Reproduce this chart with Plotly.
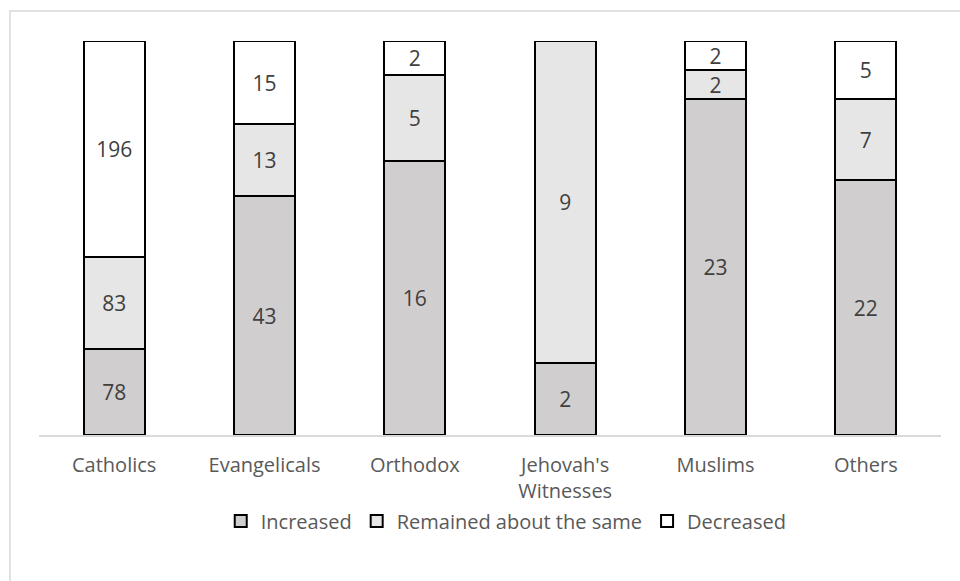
import plotly.graph_objects as go

categories = ["Catholics", "Evangelicals", "Orthodox", "Jehovah's<br>Witnesses", "Muslims", "Others"]
increased = [78, 43, 16, 2, 23, 22]
remained = [83, 13, 5, 9, 2, 7]
decreased = [196, 15, 2, 0, 2, 5]

series = [
    ("Increased", increased, "#d0cece"),
    ("Remained about the same", remained, "#e7e6e6"),
    ("Decreased", decreased, "#ffffff"),
]

fig = go.Figure()
for name, vals, color in series:
    fig.add_trace(go.Bar(
        x=categories, y=vals, name=name,
        marker=dict(color=color, line=dict(color="#000000", width=2)),
        text=[str(v) if v > 0 else "" for v in vals],
        textposition="inside", insidetextanchor="middle", textangle=0,
        constraintext="none",
        textfont=dict(color="#404040", size=21, family="Open Sans"),
        hoverinfo="skip",
    ))

fig.update_layout(
    barmode="stack", barnorm="percent", bargap=0.595,
    width=960, height=581,
    margin=dict(l=39, r=19, t=41, b=146),
    plot_bgcolor="white", paper_bgcolor="white",
    font=dict(family="Open Sans", color="#595959", size=20),
    uniformtext=dict(minsize=21, mode="show"),
    showlegend=True,
    legend=dict(orientation="h", x=0.518, xanchor="center", y=-0.218, yanchor="middle",
                font=dict(size=20, color="#595959"), itemwidth=30, traceorder="normal"),
    xaxis=dict(showline=True, linecolor="#d9d9d9", linewidth=1.5, ticks="",
               ticklabelstandoff=11,
               tickfont=dict(size=20, color="#595959"), fixedrange=True),
    yaxis=dict(range=[0, 100], visible=False, showgrid=False),
    shapes=[dict(type="rect", xref="paper", yref="paper",
                 x0=-0.0322, x1=1.2, y0=-0.6, y1=1.076,
                 line=dict(color="#d9d9d9", width=1.5), fillcolor="rgba(0,0,0,0)", layer="below")],
)

fig.write_html("out.html")
